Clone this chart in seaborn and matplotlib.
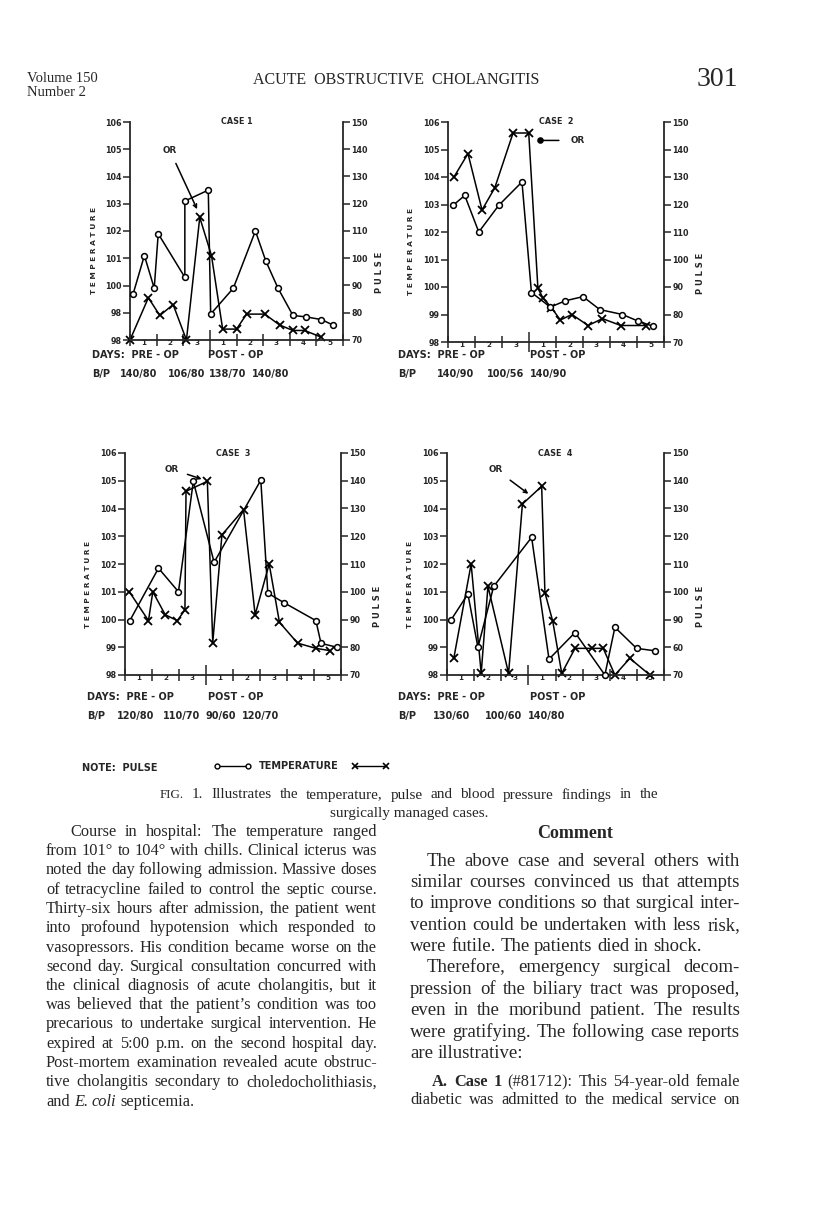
import numpy as np
import seaborn as sns
import matplotlib.pyplot as plt
from matplotlib.lines import Line2D

sns.set_style('ticks')
plt.rcParams['font.family'] = ['DejaVu Sans']
plt.rcParams['axes.linewidth'] = 1.3

W, H = 816, 1210
SERIF = ['Liberation Serif', 'DejaVu Serif']

# ---- chart data ----
day_labels = ['1', '2', '3', '1', '2', '3', '4', '5']
temp_ticks = [98, 99, 100, 101, 102, 103, 104, 105, 106]
pulse_ticks = [70, 80, 90, 100, 110, 120, 130, 140, 150]

case1_pulse_day = [0.12, 0.54, 0.91, 1.06, 2.06, 2.06, 2.94, 3.03, 3.88, 4.71, 5.1, 5.56, 6.12, 6.6, 7.19, 7.62]
case1_pulse = [87, 101, 89, 109, 93, 121, 125, 79.5, 89, 110, 99, 89, 79, 78.5, 77.5, 75.5]
case1_temp_day = [0.0, 0.69, 1.12, 1.62, 2.12, 2.62, 3.06, 3.48, 4.0, 4.38, 5.06, 5.62, 6.12, 6.56, 7.19]
case1_temp = [98.0, 99.55, 98.9, 99.3, 98.0, 102.5, 101.1, 98.4, 98.4, 98.95, 98.95, 98.55, 98.35, 98.35, 98.1]

case2_pulse_day = [0.19, 0.62, 1.14, 1.88, 2.74, 3.09, 3.79, 4.35, 5.0, 5.62, 6.46, 7.04, 7.6]
case2_pulse = [119.7, 123.3, 110, 119.7, 128.2, 88, 82.7, 85, 86.5, 81.8, 80, 77.6, 75.7]
case2_temp_day = [0.22, 0.74, 1.26, 1.73, 2.41, 2.99, 3.33, 3.52, 3.83, 4.16, 4.59, 5.19, 5.72, 6.4, 7.35]
case2_temp = [104.0, 104.85, 102.8, 103.6, 105.6, 105.6, 99.95, 99.6, 99.25, 98.8, 99.0, 98.6, 98.85, 98.6, 98.6]

case3_pulse_day = [0.18, 1.24, 1.98, 2.53, 3.3, 5.03, 5.29, 5.9, 7.07, 7.26, 7.85]
case3_pulse = [89.6, 108.5, 100, 139.8, 110.6, 140.2, 99.5, 96, 89.6, 81.4, 80]
case3_temp_day = [0.16, 0.87, 1.03, 1.49, 1.94, 2.22, 2.26, 3.05, 3.25, 3.59, 4.39, 4.82, 5.34, 5.72, 6.39, 7.07, 7.58]
case3_temp = [101.0, 99.96, 101.0, 100.17, 99.96, 100.35, 104.62, 104.98, 99.17, 103.05, 103.96, 100.17, 102.0, 99.9, 99.15, 98.96, 98.88]

case4_pulse_day = [0.16, 0.77, 1.14, 1.72, 3.12, 3.76, 4.72, 5.82, 6.19, 6.99, 7.68]
case4_pulse = [90, 99.2, 80, 101.9, 119.6, 75.7, 85.3, 70, 87.2, 79.6, 78.7]
case4_temp_day = [0.25, 0.89, 1.26, 1.51, 2.27, 2.78, 3.49, 3.61, 3.9, 4.23, 4.72, 5.33, 5.76, 6.19, 6.74, 7.48]
case4_temp = [98.6, 102.0, 98.06, 101.2, 98.06, 104.16, 104.8, 100.97, 99.93, 98.06, 98.96, 98.96, 98.96, 98.0, 98.6, 98.0]

case1_bp = ['140/80', '106/80', '138/70', '140/80']
case2_bp = ['140/90', '100/56', '140/90']
case3_bp = ['120/80', '110/70', '90/60', '120/70']
case4_bp = ['130/60', '100/60', '140/80']

fig = plt.figure(figsize=(8.16, 12.10), dpi=100)
renderer = fig.canvas.get_renderer()


def fx(x):
    return x / W


def fy(y):
    return 1 - y / H


def chart(box, title, pulse_day, pulse, temp_day, temp, left_labels, right_labels):
    x0, y0, x1, y1 = box
    ax = fig.add_axes([fx(x0), fy(y1), (x1 - x0) / W, (y1 - y0) / H])
    ax2 = ax.twinx()
    sns.lineplot(x=temp_day, y=temp, ax=ax, sort=False, estimator=None, color='black',
                 lw=1.1, marker='x', markersize=5.5, mew=1.3, mec='black', clip_on=False,
                 legend=False)
    sns.lineplot(x=pulse_day, y=pulse, ax=ax2, sort=False, estimator=None, color='black',
                 lw=1.1, marker='o', markersize=4.2, mew=1.1, mfc='white', mec='black',
                 clip_on=False, legend=False)
    ax.set_xlim(0, 8)
    ax.set_ylim(98, 106)
    ax2.set_ylim(70, 150)
    for a in (ax, ax2):
        a.set_xlabel('')
        a.set_ylabel('')
        a.spines['top'].set_visible(False)
    ax.spines['right'].set_visible(False)
    ax2.spines['left'].set_visible(False)
    ax2.spines['bottom'].set_visible(False)

    ax.set_yticks(temp_ticks)
    ax.set_yticklabels(left_labels, fontsize=5.8, fontweight='bold')
    ax2.set_yticks(pulse_ticks)
    ax2.set_yticklabels(right_labels, fontsize=5.8, fontweight='bold')
    ax.tick_params(axis='y', direction='out', length=5, width=1.1, pad=1)
    ax2.tick_params(axis='y', direction='out', length=5, width=1.1, pad=1)

    ax.set_xticks(range(9))
    ax.set_xticklabels([''] * 9)
    ax.set_xticks(np.arange(0.5, 8, 1), minor=True)
    ax.set_xticklabels(day_labels, minor=True, fontsize=5.2, fontweight='bold')
    ax.tick_params(axis='x', which='major', direction='inout', length=8, width=1.1)
    ax.tick_params(axis='x', which='minor', length=0, pad=0)
    ax.xaxis.get_major_ticks()[3].tick1line.set_markersize(14)

    ax.text(0.5, 1.0, title, transform=ax.transAxes, ha='center', va='center',
            fontsize=5.8, fontweight='bold')
    ax.text(-0.17, 0.41, 'T E M P E R A T U R E', transform=ax.transAxes, rotation=90,
            ha='center', va='center', fontsize=5.3, fontweight='bold')
    ax2.text(1.17, 0.31, 'P U L S E', transform=ax2.transAxes, rotation=90,
             ha='center', va='center', fontsize=6, fontweight='bold')
    return ax, ax2


def under(x_days, x_post, y, bp_vals, bp_x):
    kw = dict(fontsize=7, fontweight='bold', va='center', ha='left')
    fig.text(fx(x_days), fy(y), 'DAYS:  PRE - OP', **kw)
    fig.text(fx(x_post), fy(y), 'POST - OP', **kw)
    fig.text(fx(x_days), fy(y + 19), 'B/P', **kw)
    for v, xx in zip(bp_vals, bp_x):
        fig.text(fx(xx), fy(y + 19), v, **kw)


left1 = ['98', '98', '100', '101', '102', '103', '104', '105', '106']
left_std = [str(t) for t in temp_ticks]
right_std = [str(p) for p in pulse_ticks]
right4 = ['70', '60', '90', '100', '110', '120', '130', '140', '150']

arrow = dict(arrowstyle='->', lw=1.1, color='black', shrinkA=4, shrinkB=0)

ax, ax2 = chart((130, 122, 343, 340), 'CASE 1', case1_pulse_day, case1_pulse,
                case1_temp_day, case1_temp, left1, right_std)
ax.annotate('OR', xy=(2.52, 102.8), xytext=(1.5, 104.95), fontsize=6.3, fontweight='bold',
            ha='center', va='center', arrowprops=arrow)

ax, ax2 = chart((448, 122, 664, 342), 'CASE  2', case2_pulse_day, case2_pulse,
                case2_temp_day, case2_temp, left_std, right_std)
ax.annotate('OR', xy=(3.42, 105.33), xytext=(4.8, 105.33), fontsize=6.3, fontweight='bold',
            ha='center', va='center',
            arrowprops=dict(arrowstyle='-', lw=1.1, color='black', shrinkA=6, shrinkB=0))
ax.scatter([3.42], [105.33], s=14, color='black', zorder=5, clip_on=False)

ax, ax2 = chart((125, 453, 341, 675), 'CASE  3', case3_pulse_day, case3_pulse,
                case3_temp_day, case3_temp, left_std, right_std)
ax.annotate('OR', xy=(2.84, 105.06), xytext=(1.73, 105.42), fontsize=6.3, fontweight='bold',
            ha='center', va='center', arrowprops=arrow)

ax, ax2 = chart((447, 453, 664, 675), 'CASE  4', case4_pulse_day, case4_pulse,
                case4_temp_day, case4_temp, left_std, right4)
ax.annotate('OR', xy=(3.0, 104.53), xytext=(1.78, 105.42), fontsize=6.3, fontweight='bold',
            ha='center', va='center', arrowprops=arrow)

under(92, 208, 355, case1_bp, [120, 168, 209, 252])
under(398, 530, 355, case2_bp, [437, 487, 530])
under(87, 208, 697, case3_bp, [117, 163, 205, 242])
under(398, 530, 697, case4_bp, [433, 485, 528])

# legend note
fig.text(fx(82), fy(768), 'NOTE:  PULSE', fontsize=7, fontweight='bold', va='center')
handles = [Line2D([], [], color='black', lw=1, marker='o', markersize=3.5, mfc='white'),
           Line2D([], [], color='black', lw=1, marker='x', markersize=5, mew=1.2)]
fig.legend(handles, ['', 'TEMPERATURE'], loc='center left', bbox_to_anchor=(fx(192), fy(766)),
           ncol=2, markerfirst=False, frameon=False, numpoints=2, handlelength=3.8,
           columnspacing=0.8, handletextpad=1.4, prop={'size': 7, 'weight': 'bold'})

# ---- page text ----
fig.text(fx(27), fy(78), 'Volume 150', family=SERIF, fontsize=10.5, va='center')
fig.text(fx(27), fy(92), 'Number 2', family=SERIF, fontsize=10.5, va='center')
fig.text(fx(396), fy(80), 'ACUTE  OBSTRUCTIVE  CHOLANGITIS', family=SERIF, fontsize=11.5,
         ha='center', va='center')
fig.text(fx(738), fy(80), '301', family=SERIF, fontsize=20, ha='right', va='center')


def put_line(line, x0, x1, yc, size, justify=True):
    while True:
        items = []
        for w in line.split(' '):
            style, weight, s = 'normal', 'normal', size
            if w.startswith('_'):
                w, style = w[1:], 'italic'
            elif w.startswith('*'):
                w, weight = w[1:], 'bold'
            elif w.startswith('^'):
                w, s = w[1:], size * 0.85
            items.append(fig.text(0, 0, w, family=SERIF, fontsize=s, fontstyle=style,
                                  fontweight=weight, va='center', ha='left'))
        widths = [t.get_window_extent(renderer).width for t in items]
        space = size * 100 / 72 * 0.25
        gap = space
        if justify and len(items) > 1:
            gap = (x1 - x0 - sum(widths)) / (len(items) - 1)
        if gap >= space * 0.8:
            break
        for t in items:
            t.remove()
        size *= 0.97
    x = x0
    for t, w in zip(items, widths):
        t.set_position((fx(x), fy(yc)))
        x += w + gap


put_line('^FIG. 1. Illustrates the temperature, pulse and blood pressure findings in the',
         160, 658, 795, 11)
fig.text(fx(409), fy(813), 'surgically managed cases.', family=SERIF, fontsize=11,
         ha='center', va='center')

left_col = [
    'Course in hospital: The temperature ranged',
    'from 101° to 104° with chills. Clinical icterus was',
    'noted the day following admission. Massive doses',
    'of tetracycline failed to control the septic course.',
    'Thirty-six hours after admission, the patient went',
    'into profound hypotension which responded to',
    'vasopressors. His condition became worse on the',
    'second day. Surgical consultation concurred with',
    'the clinical diagnosis of acute cholangitis, but it',
    'was believed that the patient’s condition was too',
    'precarious to undertake surgical intervention. He',
    'expired at 5:00 p.m. on the second hospital day.',
    'Post-mortem examination revealed acute obstruc-',
    'tive cholangitis secondary to choledocholithiasis,',
    'and _E. _coli septicemia.',
]
for i, line in enumerate(left_col):
    put_line(line, 70 if i == 0 else 46, 377, 832 + 19.25 * i, 11.8,
             justify=i < len(left_col) - 1)

fig.text(fx(575), fy(833), 'Comment', family=SERIF, fontsize=13, fontweight='bold',
         ha='center', va='center')
right_col = [
    ('The above case and several others with', True, True),
    ('similar courses convinced us that attempts', False, True),
    ('to improve conditions so that surgical inter-', False, True),
    ('vention could be undertaken with less risk,', False, True),
    ('were futile. The patients died in shock.', False, False),
    ('Therefore, emergency surgical decom-', True, True),
    ('pression of the biliary tract was proposed,', False, True),
    ('even in the moribund patient. The results', False, True),
    ('were gratifying. The following case reports', False, True),
    ('are illustrative:', False, False),
]
for i, (line, indent, just) in enumerate(right_col):
    put_line(line, 427 if indent else 410, 740, 861 + 21.4 * i, 13.5, justify=just)

put_line('*A. *Case *1 (#81712): This 54-year-old female', 432, 740, 1082, 11.8)
put_line('diabetic was admitted to the medical service on', 410, 740, 1100, 11.8)

fig.savefig('out.png', dpi=100)
